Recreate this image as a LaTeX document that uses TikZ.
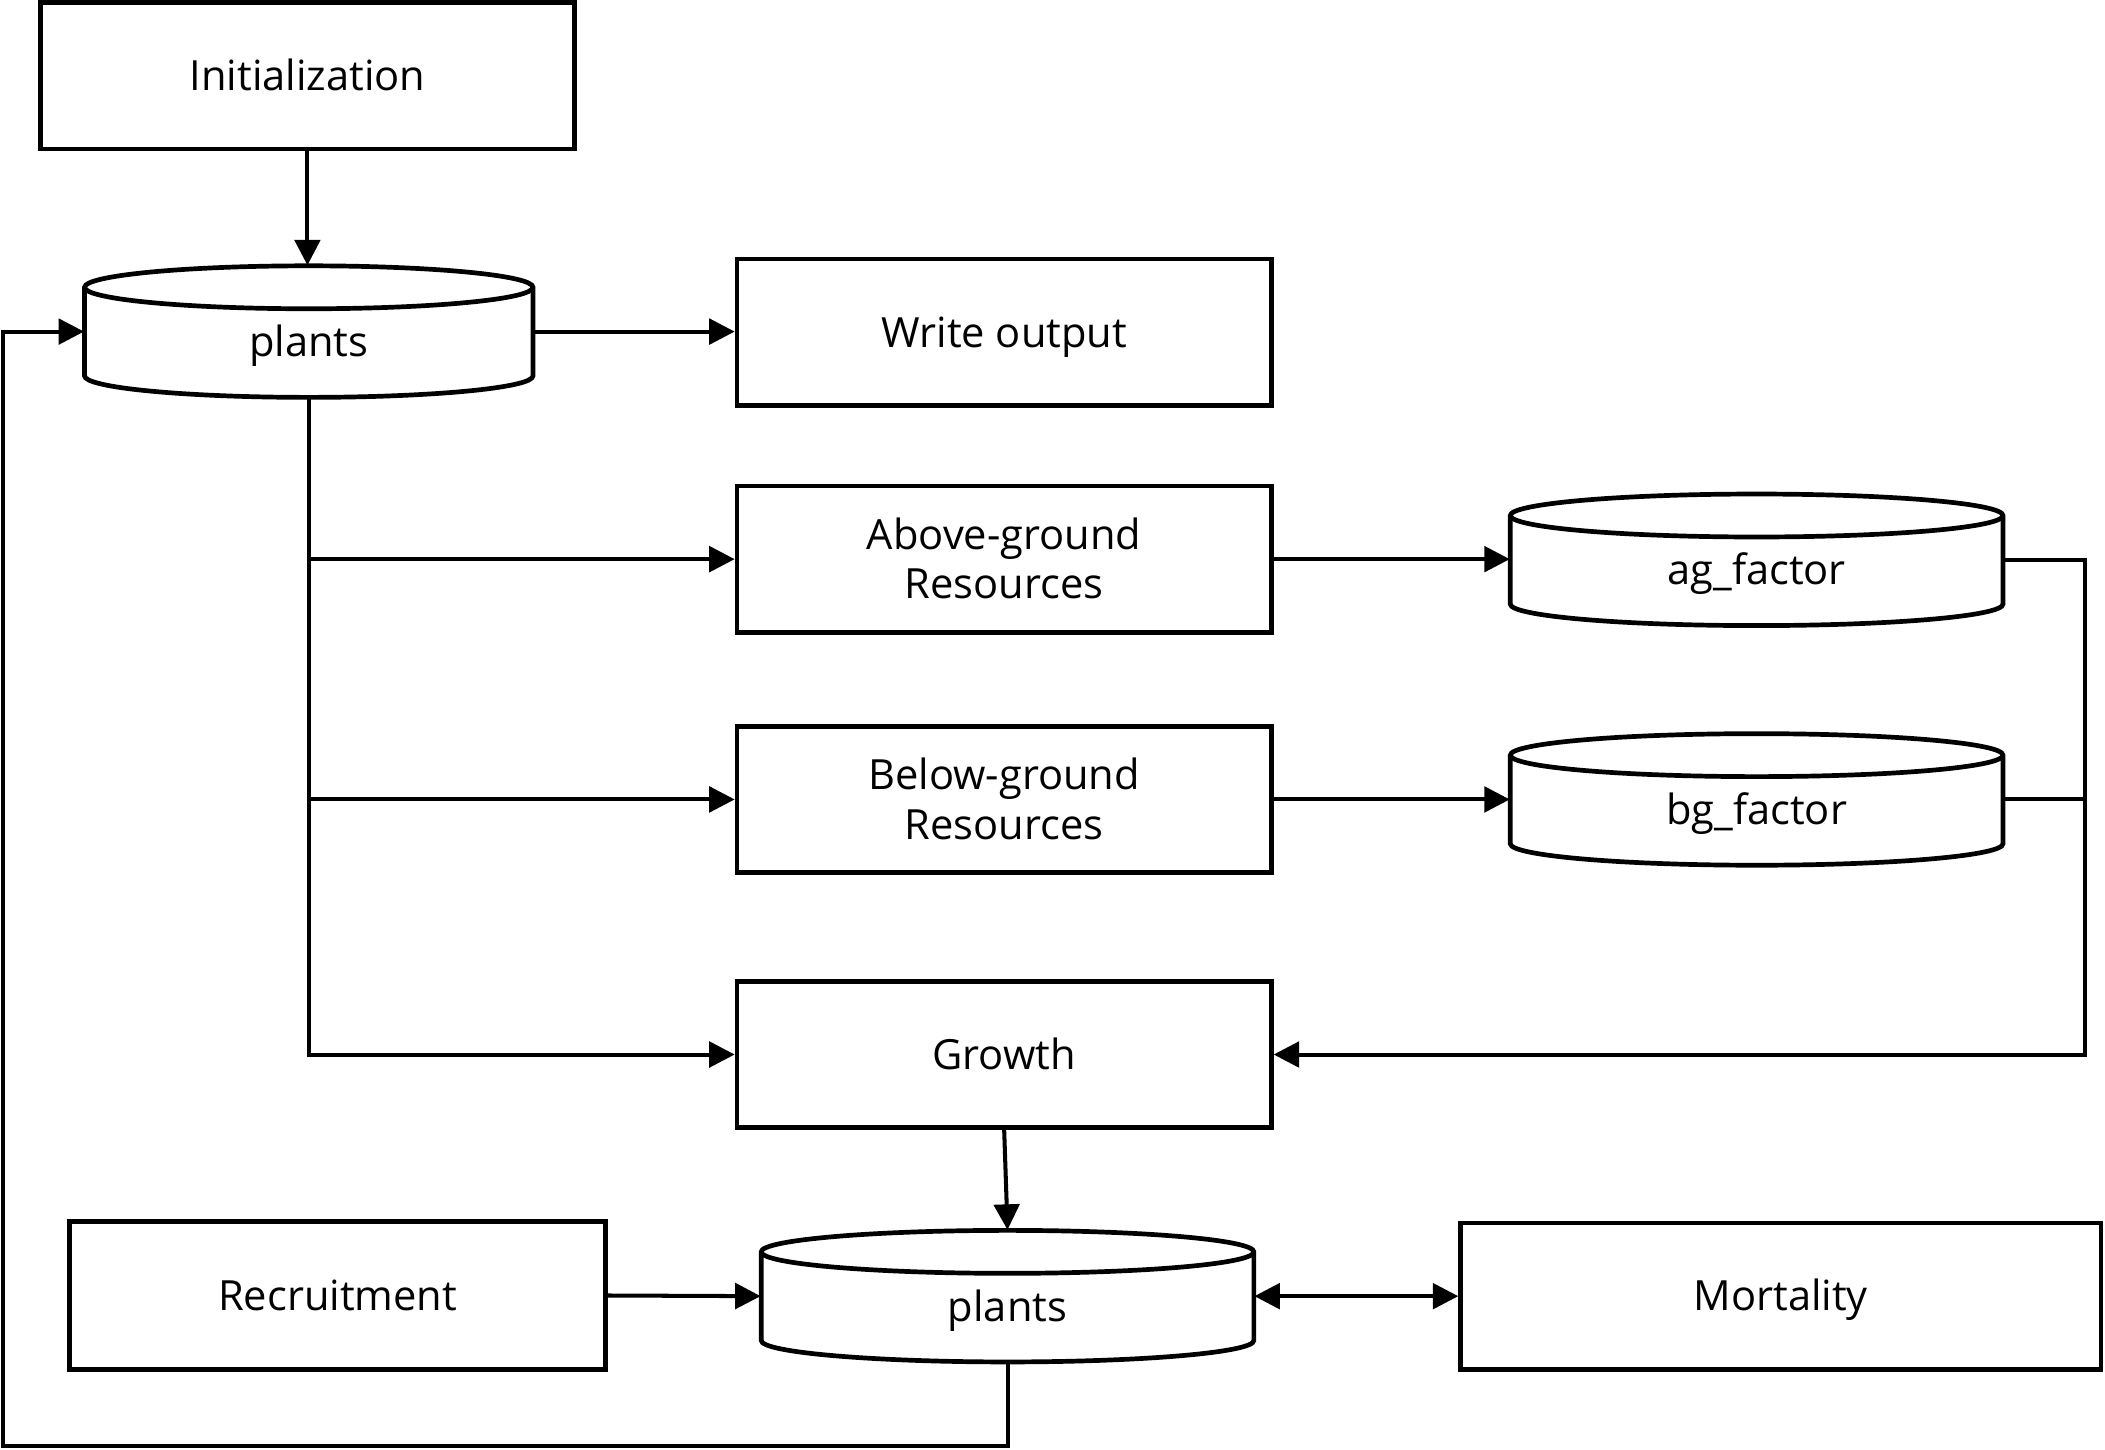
\documentclass[tikz,border=0pt]{standalone}
\usepackage{fontspec}
\setmainfont{Open Sans}
\usetikzlibrary{arrows.meta}
\newcommand\dbcyl[5]{%
  \draw[shapeline, fill=white] ({#2-#4/2},{-#3-33}) arc[start angle=180,end angle=360,x radius={#4*0.25pt},y radius=8pt]
     -- ({#2+#4/2},{-#3+33}) arc[start angle=0,end angle=180,x radius={#4*0.25pt},y radius=8pt] -- cycle;
  \draw[shapeline] ({#2-#4/2},{-#3+33}) arc[start angle=180,end angle=360,x radius={#4*0.25pt},y radius=8pt];
  \node[cylbox, minimum width={#4*0.5pt}] (#1) at (#2,-#3) {#5};%
}
\begin{document}
\begin{tikzpicture}[x=0.5pt,y=0.5pt,
  every node/.style={font=\fontsize{15.5}{18.5}\selectfont},
  proc/.style={draw, line width=1.75pt, inner sep=0pt, minimum height=54.5pt, text height=11pt, text depth=0pt, align=center},
  twoline/.style={text height=29.5pt},
  cylbox/.style={inner sep=0pt, minimum height=49pt, text height=18.5pt, text depth=0pt},
  shapeline/.style={line width=1.75pt},
  conn/.style={line width=1.5pt, -{Triangle[length=9.5pt,width=9.5pt]}},
  conn2/.style={line width=1.5pt, {Triangle[length=9.5pt,width=9.5pt]}-{Triangle[length=9.5pt,width=9.5pt]}},
  link/.style={line width=1.5pt},
]
\useasboundingbox (0,0) rectangle (1568,-1080);

\node[proc, minimum width=199pt] (init) at (229,-56.5) {Initialization};
\node[proc, minimum width=199pt] (write) at (748,-247.5) {Write output};
\node[proc, twoline, minimum width=199pt] (above) at (748,-416.5) {Above-ground\\Resources};
\node[proc, twoline, minimum width=199pt] (below) at (748,-595.5) {Below-ground\\Resources};
\node[proc, minimum width=199pt] (growth) at (748,-785.5) {Growth};
\node[proc, minimum width=199.5pt, minimum height=55pt] (recruit) at (251.5,-965) {Recruitment};
\node[proc, minimum width=238.5pt] (mort) at (1326.5,-965.5) {Mortality};

\dbcyl{plantsA}{230}{247}{334}{plants}
\dbcyl{ag}{1308.5}{417}{367}{ag\_factor}
\dbcyl{bg}{1308.5}{595.5}{367}{bg\_factor}
\dbcyl{plantsB}{750.5}{965.5}{367}{plants}

\coordinate (rbus) at (1553,-417);
\coordinate (lbus) at (2,-1077);

\draw[conn] (init.south) -- (init.south |- plantsA.north);
\draw[conn] (plantsA.east) -- (write.west |- plantsA.east);
\draw[conn] (plantsA.south) |- (growth.west);
\draw[conn] (plantsA.south |- above.west) -- (above.west);
\draw[conn] (plantsA.south |- below.west) -- (below.west);
\draw[conn] (above.east) -- (ag.west |- above.east);
\draw[conn] (below.east) -- (bg.west |- below.east);
\draw[conn] (ag.east) -- (rbus |- ag.east) |- (growth.east);
\draw[link] (bg.east) -- (rbus |- bg.east);
\draw[conn] (growth.south) -- (plantsB.north);
\draw[conn] (recruit.east) -- (plantsB.west);
\draw[conn2] (plantsB.east) -- (mort.west |- plantsB.east);
\draw[conn] (plantsB.south) |- (lbus) |- (plantsA.west);
\end{tikzpicture}
\end{document}
